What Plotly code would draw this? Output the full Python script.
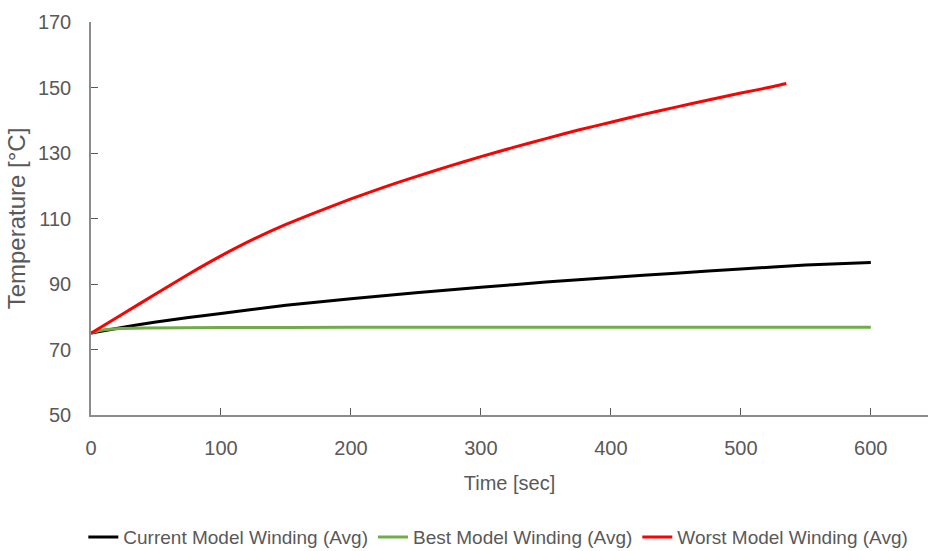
import plotly.graph_objects as go

# Time [sec] and temperature [°C] series
t_current = [0, 25, 50, 75, 100, 150, 200, 250, 300, 350, 400, 450, 500, 550, 600]
temp_current = [75.0, 76.8, 78.4, 79.8, 81.0, 83.5, 85.5, 87.3, 89.0, 90.6, 92.0, 93.3, 94.6, 95.8, 96.6]

t_best = [0, 5, 10, 20, 40, 100, 200, 300, 400, 500, 600]
temp_best = [75.0, 75.6, 76.0, 76.35, 76.6, 76.7, 76.8, 76.8, 76.8, 76.8, 76.8]

t_worst = [0, 25, 50, 75, 100, 125, 150, 175, 200, 225, 250, 275, 300, 325, 350,
           375, 400, 425, 450, 475, 500, 525, 535]
temp_worst = [75.0, 81.0, 87.0, 93.0, 98.6, 103.7, 108.2, 112.2, 116.0, 119.5, 122.8,
              125.9, 128.9, 131.7, 134.4, 137.0, 139.4, 141.8, 144.0, 146.2, 148.3,
              150.3, 151.2]

names = ["Current Model Winding (Avg)", "Best Model Winding (Avg)", "Worst Model Winding (Avg)"]
colors = ["#000000", "#70AD47", "#FF0000"]

x_ticks = [0, 100, 200, 300, 400, 500, 600]
y_ticks = [50, 70, 90, 110, 130, 150, 170]

FONT = "Liberation Sans, Arial, sans-serif"
GRAY = "#595959"

fig = go.Figure()
for xs, ys, nm, c in [(t_current, temp_current, names[0], colors[0]),
                      (t_best, temp_best, names[1], colors[1]),
                      (t_worst, temp_worst, names[2], colors[2])]:
    fig.add_trace(go.Scatter(x=xs, y=ys, name=nm, mode="lines",
                             line=dict(color=c, width=3, shape="spline", smoothing=0.5)))

fig.update_layout(
    width=928, height=551,
    margin=dict(l=91, r=0, t=22, b=136),
    plot_bgcolor="white", paper_bgcolor="white",
    font=dict(family=FONT, color=GRAY, size=20),
    showlegend=True,
    legend=dict(orientation="h", xref="container", yref="container",
                x=0.537, y=0.025, xanchor="center", yanchor="middle",
                font=dict(size=19, color=GRAY), itemwidth=30, tracegroupgap=0),
    xaxis=dict(range=[0, 644], tickvals=x_ticks, ticks="inside", ticklen=7,
               tickcolor="#595959", showline=True, linecolor="#8c8c8c", linewidth=1.5,
               showgrid=False, zeroline=False, ticklabelstandoff=14,
               title=dict(text="Time [sec]", standoff=18, font=dict(size=20, color=GRAY))),
    yaxis=dict(range=[50, 170], tickvals=y_ticks, ticks="inside", ticklen=7,
               tickcolor="#595959", showline=True, linecolor="#8c8c8c", linewidth=1.5,
               showgrid=False, zeroline=False, ticklabelstandoff=14,
               title=dict(text="Temperature [°C]", standoff=5, font=dict(size=24, color=GRAY))),
)

fig.write_html("out.html")
